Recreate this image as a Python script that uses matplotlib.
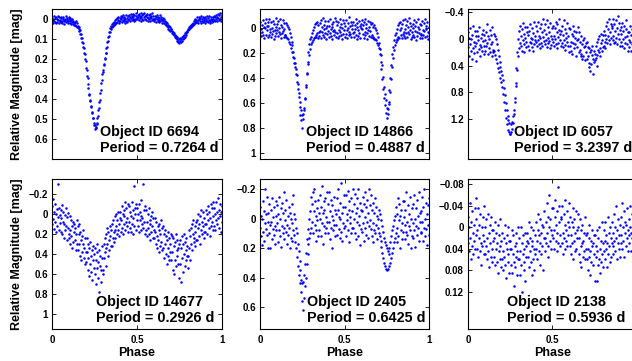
import numpy as np
import matplotlib
matplotlib.use('Agg')
from matplotlib import pyplot as plt
from matplotlib.ticker import FuncFormatter

# magnitudes, evenly spaced in phase 0..1
# (one row per 0.05 in phase)
mag_6694 = [
    0.012, -0.006, 0.020, 0.004, -0.014, 0.009, 0.016, -0.003, -0.010, 0.022, 0.001, 0.013, -0.017, 0.006, 0.018, -0.008, 0.003, 0.011,
    -0.004, 0.015, -0.012, 0.008, 0.020, 0.000, -0.009, 0.012, 0.024, -0.002, 0.006, -0.015, 0.017, 0.003, -0.006, 0.010, 0.019, -0.011,
    0.002, 0.018, -0.006, 0.012, 0.024, 0.005, 0.016, -0.002, 0.026, 0.011, 0.020, 0.032, 0.014, 0.028, 0.008, 0.036, 0.022, 0.040,
    0.042, 0.033, 0.050, 0.042, 0.060, 0.056, 0.076, 0.073, 0.096, 0.094, 0.116, 0.118, 0.140, 0.147, 0.170, 0.176, 0.200, 0.212,
    0.244, 0.255, 0.286, 0.296, 0.326, 0.345, 0.374, 0.381, 0.405, 0.411, 0.436, 0.441, 0.466, 0.470, 0.496, 0.497, 0.520, 0.530,
    0.530, 0.548, 0.540, 0.545, 0.524, 0.520, 0.494, 0.486, 0.455, 0.446, 0.414, 0.406, 0.370, 0.356, 0.318, 0.306, 0.274, 0.266,
    0.256, 0.230, 0.226, 0.200, 0.196, 0.170, 0.171, 0.145, 0.140, 0.114, 0.110, 0.088, 0.086, 0.064, 0.066, 0.046, 0.052, 0.033,
    0.040, 0.026, 0.036, 0.020, 0.030, 0.014, 0.026, 0.006, 0.022, 0.000, 0.018, -0.006, 0.016, 0.004, -0.010, 0.012, 0.020, -0.004,
    0.010, -0.014, 0.002, 0.016, -0.008, -0.018, 0.006, 0.012, -0.004, -0.012, 0.018, 0.000, -0.020, 0.008, -0.006, 0.014, -0.016, 0.004,
    -0.018, 0.002, -0.010, 0.010, -0.024, -0.004, 0.006, -0.014, -0.026, 0.000, -0.008, 0.008, -0.020, -0.002, 0.004, -0.016, -0.028, -0.006,
    0.002, -0.020, -0.012, 0.006, -0.026, -0.004, -0.016, 0.008, -0.030, -0.008, -0.018, 0.000, -0.024, 0.004, -0.010, -0.028, -0.002, -0.014,
    -0.022, 0.004, -0.012, -0.026, 0.008, -0.004, -0.018, 0.002, -0.010, -0.024, 0.010, -0.006, -0.016, 0.006, -0.028, -0.002, -0.014, 0.000,
    0.008, -0.016, 0.002, -0.008, 0.014, -0.020, -0.002, 0.010, -0.012, 0.004, 0.016, -0.006, -0.018, 0.012, 0.000, -0.010, 0.006, 0.018,
    0.012, -0.004, 0.018, 0.002, 0.024, 0.008, 0.030, 0.014, 0.036, 0.020, 0.042, 0.028, 0.050, 0.034, 0.056, 0.042, 0.062, 0.048,
    0.052, 0.070, 0.060, 0.076, 0.066, 0.082, 0.072, 0.090, 0.078, 0.094, 0.084, 0.100, 0.092, 0.108, 0.098, 0.114, 0.102, 0.118,
    0.112, 0.096, 0.116, 0.100, 0.108, 0.092, 0.102, 0.086, 0.096, 0.080, 0.088, 0.072, 0.080, 0.066, 0.072, 0.058, 0.064, 0.050,
    0.056, 0.042, 0.052, 0.036, 0.046, 0.030, 0.040, 0.024, 0.034, 0.018, 0.028, 0.012, 0.024, 0.006, 0.020, 0.000, 0.016, 0.004,
    0.014, -0.008, 0.006, 0.018, -0.012, 0.002, 0.010, -0.004, 0.020, -0.014, 0.008, 0.000, 0.016, -0.010, 0.004, 0.012, -0.006, 0.018,
    -0.010, 0.012, 0.002, -0.016, 0.008, 0.016, -0.006, 0.004, -0.014, 0.010, 0.018, -0.002, -0.012, 0.006, 0.014, -0.008, 0.000, 0.010,
    0.004, -0.014, 0.010, -0.008, -0.020, 0.002, -0.012, 0.008, -0.024, -0.004, 0.006, -0.018, -0.028, 0.000, -0.010, 0.010, -0.022, -0.032,
]
mag_14866 = [
    0.042, -0.048, 0.012, 0.068, -0.026, 0.030, -0.062, 0.055, -0.008, 0.084, -0.038, 0.004, 0.060, -0.070, 0.020, -0.015, 0.075, -0.045,
    -0.018, 0.058, -0.068, 0.032, 0.006, -0.044, 0.072, -0.002, 0.046, -0.058, 0.022, 0.090, -0.030, 0.014, 0.064, -0.080, 0.038, -0.010,
    0.016, -0.034, 0.066, -0.054, 0.036, 0.002, -0.074, 0.050, -0.020, 0.080, -0.008, 0.040, -0.060, 0.026, 0.070, -0.040, 0.010, 0.056,
    0.060, -0.040, 0.070, -0.020, 0.080, -0.005, 0.090, 0.010, 0.110, 0.040, 0.130, 0.070, 0.160, 0.110, 0.190, 0.140, 0.230, 0.190,
    0.280, 0.240, 0.310, 0.280, 0.370, 0.330, 0.430, 0.380, 0.490, 0.450, 0.550, 0.520, 0.630, 0.590, 0.700, 0.660, 0.740, 0.700,
    0.800, 0.690, 0.730, 0.640, 0.660, 0.560, 0.570, 0.460, 0.470, 0.360, 0.370, 0.270, 0.290, 0.190, 0.220, 0.130, 0.170, 0.090,
    0.130, 0.070, 0.110, 0.040, 0.100, 0.020, 0.080, -0.010, 0.070, -0.030, 0.060, -0.040, 0.070, -0.050, 0.040, 0.080, -0.020, 0.030,
    0.064, -0.038, 0.022, 0.084, -0.064, 0.030, -0.008, 0.054, -0.078, 0.012, 0.072, -0.026, 0.040, -0.052, 0.002, 0.090, -0.016, 0.048,
    0.028, -0.056, 0.074, -0.014, 0.044, -0.070, 0.006, 0.062, -0.034, 0.092, -0.004, 0.024, -0.046, 0.058, 0.016, -0.082, 0.036, 0.070,
    -0.058, 0.040, -0.022, 0.078, -0.044, 0.014, 0.066, -0.074, 0.034, -0.006, 0.056, -0.030, 0.086, 0.000, -0.066, 0.046, 0.020, -0.040,
    0.070, -0.012, 0.046, -0.064, 0.018, 0.084, -0.038, 0.002, 0.060, -0.084, 0.030, -0.016, 0.052, -0.050, 0.076, 0.008, -0.026, 0.038,
    -0.048, 0.034, 0.074, -0.024, 0.010, -0.068, 0.054, -0.004, 0.090, -0.040, 0.020, 0.064, -0.058, 0.044, -0.012, 0.080, 0.004, -0.032,
    0.006, -0.060, 0.050, -0.020, 0.078, -0.044, 0.030, -0.074, 0.060, 0.000, -0.030, 0.040, 0.086, -0.052, 0.016, 0.068, -0.010, 0.026,
    -0.050, 0.070, -0.030, 0.060, -0.040, 0.080, -0.010, 0.070, -0.020, 0.090, 0.000, 0.090, 0.020, 0.100, 0.040, 0.120, 0.070, 0.140,
    0.160, 0.120, 0.210, 0.170, 0.270, 0.220, 0.330, 0.300, 0.410, 0.390, 0.490, 0.470, 0.560, 0.530, 0.620, 0.580, 0.680, 0.640,
    0.720, 0.650, 0.690, 0.590, 0.610, 0.500, 0.510, 0.400, 0.410, 0.300, 0.310, 0.210, 0.240, 0.150, 0.180, 0.100, 0.140, 0.060,
    0.110, 0.040, 0.100, 0.010, 0.090, -0.020, 0.070, -0.040, 0.080, 0.020, -0.050, 0.060, 0.000, 0.085, -0.030, 0.050, -0.060, 0.030,
    0.062, -0.068, 0.012, 0.084, -0.024, 0.042, -0.054, 0.070, -0.008, 0.030, -0.078, 0.052, 0.018, -0.040, 0.088, -0.016, 0.036, 0.074,
    -0.034, 0.054, 0.002, -0.064, 0.076, 0.022, -0.014, 0.094, -0.046, 0.036, 0.066, -0.004, -0.072, 0.044, 0.010, 0.082, -0.028, 0.058,
    0.046, -0.024, 0.080, -0.058, 0.016, 0.056, -0.040, 0.028, -0.070, 0.072, 0.006, -0.018, 0.064, -0.050, 0.034, 0.090, -0.008, 0.040,
]
mag_6057 = [
    0.120, -0.100, 0.250, -0.020, 0.080, -0.160, 0.180, 0.000, 0.300, -0.060, 0.140, -0.200, 0.040, 0.210, -0.120, 0.100, -0.040, 0.330,
    0.060, -0.120, 0.200, 0.010, -0.050, 0.150, -0.180, 0.090, 0.260, -0.020, 0.120, -0.080, 0.180, -0.140, 0.030, 0.230, -0.060, 0.100,
    0.020, 0.180, -0.100, 0.100, -0.220, 0.060, 0.220, -0.040, 0.140, 0.000, -0.140, 0.200, 0.080, -0.060, 0.260, 0.040, -0.180, 0.160,
    0.200, -0.080, 0.180, -0.040, 0.240, 0.000, 0.300, 0.080, 0.360, 0.160, 0.440, 0.260, 0.500, 0.340, 0.580, 0.420, 0.640, 0.480,
    0.540, 0.720, 0.620, 0.820, 0.740, 0.940, 0.840, 1.060, 0.960, 1.180, 1.060, 1.280, 1.160, 1.360, 1.220, 1.400, 1.260, 1.430,
    1.420, 1.280, 1.400, 1.240, 1.350, 1.160, 1.260, 1.060, 1.120, 0.880, 0.940, 0.660, 0.700, 0.440, 0.460, 0.200, 0.260, 0.000,
    0.140, -0.120, 0.060, -0.200, 0.100, -0.050, 0.180, -0.150, 0.020, -0.240, 0.080, -0.080, 0.200, -0.010, -0.180, 0.120, 0.040, -0.100,
    -0.180, 0.100, -0.060, 0.160, -0.120, 0.040, -0.220, 0.060, -0.010, 0.120, -0.160, 0.000, 0.180, -0.090, 0.080, -0.250, 0.020, -0.040,
    0.050, -0.200, 0.100, -0.120, 0.020, -0.260, 0.080, -0.050, 0.140, -0.160, -0.010, -0.220, 0.060, -0.100, 0.110, -0.300, -0.030, 0.030,
    -0.140, 0.080, -0.220, 0.010, -0.080, 0.120, -0.280, -0.020, 0.060, -0.180, 0.030, -0.100, 0.140, -0.240, -0.040, 0.090, -0.160, 0.000,
    0.040, -0.200, -0.040, 0.100, -0.160, 0.000, -0.260, 0.070, -0.100, 0.130, -0.220, -0.030, 0.060, -0.140, -0.300, 0.020, -0.080, 0.110,
    -0.120, 0.060, -0.200, 0.120, -0.060, 0.020, -0.280, 0.090, -0.150, 0.160, -0.020, -0.090, 0.040, -0.240, 0.100, -0.040, 0.200, -0.160,
    0.100, -0.150, 0.040, 0.180, -0.080, 0.220, -0.200, 0.060, -0.040, 0.140, -0.120, 0.080, -0.010, 0.260, -0.100, 0.120, 0.020, -0.180,
    0.000, 0.200, -0.100, 0.160, 0.040, 0.260, -0.050, 0.220, 0.080, 0.300, 0.020, 0.250, 0.120, -0.020, 0.320, 0.100, 0.200, 0.060,
    0.300, 0.050, 0.260, 0.120, 0.360, 0.140, 0.420, 0.200, 0.480, 0.160, 0.380, 0.240, 0.100, 0.300, 0.520, 0.180, 0.340, 0.220,
    0.320, 0.100, 0.280, 0.050, 0.400, 0.240, 0.160, 0.000, 0.200, -0.040, 0.140, 0.260, 0.060, -0.080, 0.180, 0.020, 0.120, -0.060,
    0.100, -0.120, 0.050, -0.060, 0.140, -0.200, 0.000, -0.250, 0.060, -0.150, -0.050, -0.300, 0.020, -0.100, 0.080, -0.220, -0.020, -0.160,
    -0.200, 0.020, -0.300, -0.050, 0.060, -0.220, -0.120, 0.040, -0.280, -0.020, -0.160, 0.080, -0.340, -0.080, 0.000, -0.240, -0.140, 0.100,
    0.040, -0.180, -0.080, 0.100, -0.240, 0.000, -0.120, 0.140, -0.200, -0.030, 0.060, -0.150, -0.280, 0.080, -0.050, 0.180, -0.100, 0.020,
    -0.100, 0.120, -0.200, 0.040, -0.060, 0.180, -0.150, 0.080, -0.020, 0.200, -0.120, 0.060, 0.260, -0.050, 0.140, -0.180, 0.010, 0.100,
]
mag_14677 = [
    0.100, -0.080, 0.050, -0.150, 0.150, -0.020, 0.080, -0.100, 0.180, 0.000, -0.050, 0.120, 0.030, -0.300, 0.160, -0.060, 0.090, 0.010,
    -0.040, 0.180, 0.040, -0.090, 0.200, 0.080, -0.020, 0.240, 0.100, 0.010, 0.160, -0.060, 0.120, 0.260, 0.030, 0.140, -0.010, 0.200,
    0.240, 0.020, 0.160, 0.300, 0.060, 0.220, 0.120, 0.340, 0.080, 0.280, 0.180, 0.100, 0.260, 0.140, 0.360, 0.200, 0.060, 0.300,
    0.120, 0.360, 0.200, 0.100, 0.300, 0.420, 0.180, 0.260, 0.460, 0.220, 0.380, 0.300, 0.160, 0.440, 0.340, 0.240, 0.500, 0.380,
    0.480, 0.240, 0.380, 0.560, 0.300, 0.440, 0.620, 0.340, 0.500, 0.280, 0.580, 0.420, 0.360, 0.660, 0.460, 0.320, 0.540, 0.400,
    0.340, 0.600, 0.460, 0.700, 0.380, 0.540, 0.300, 0.640, 0.480, 0.780, 0.360, 0.520, 0.420, 0.680, 0.560, 0.320, 0.440, 0.600,
    0.560, 0.300, 0.440, 0.240, 0.380, 0.520, 0.200, 0.340, 0.140, 0.300, 0.420, 0.180, 0.260, 0.360, 0.120, 0.220, 0.320, 0.160,
    0.320, 0.100, 0.240, 0.060, 0.180, 0.280, 0.020, 0.160, 0.240, 0.000, 0.120, 0.200, 0.060, 0.160, -0.020, 0.100, 0.220, 0.040,
    -0.020, 0.180, 0.060, -0.080, 0.140, 0.000, 0.200, -0.040, 0.100, 0.020, -0.120, 0.160, 0.080, -0.060, 0.120, 0.040, -0.100, 0.180,
    0.080, -0.080, 0.140, -0.020, 0.180, 0.020, -0.120, 0.100, -0.040, 0.200, 0.040, -0.280, 0.120, -0.060, 0.000, 0.160, -0.100, 0.060,
    -0.060, 0.120, 0.000, 0.180, -0.100, 0.060, -0.020, 0.160, 0.020, -0.140, 0.100, 0.040, -0.300, 0.140, -0.040, 0.080, 0.200, -0.080,
    0.160, -0.040, 0.080, 0.220, 0.000, 0.140, -0.060, 0.200, 0.060, 0.260, 0.100, 0.020, 0.180, -0.020, 0.120, 0.240, 0.040, 0.160,
    0.240, 0.040, 0.180, 0.300, 0.080, 0.220, 0.340, 0.120, 0.260, 0.160, 0.380, 0.100, 0.200, 0.320, 0.060, 0.280, 0.140, 0.360,
    0.120, 0.340, 0.200, 0.440, 0.160, 0.300, 0.400, 0.220, 0.500, 0.260, 0.180, 0.420, 0.340, 0.240, 0.460, 0.300, 0.380, 0.200,
    0.460, 0.220, 0.380, 0.560, 0.240, 0.320, 0.600, 0.280, 0.460, 0.200, 0.520, 0.360, 0.420, 0.260, 0.500, 0.340, 0.640, 0.300,
    0.260, 0.500, 0.340, 0.680, 0.220, 0.440, 0.300, 0.580, 0.200, 0.400, 0.520, 0.280, 0.360, 0.460, 0.240, 0.420, 0.320, 0.540,
    0.420, 0.160, 0.340, 0.220, 0.460, 0.140, 0.300, 0.100, 0.360, 0.200, 0.060, 0.280, 0.240, 0.120, 0.320, 0.180, 0.080, 0.260,
    0.060, 0.260, 0.140, 0.000, 0.220, 0.100, 0.300, 0.020, 0.160, -0.040, 0.200, 0.080, 0.120, -0.020, 0.240, 0.040, 0.180, 0.100,
    0.180, -0.040, 0.100, 0.000, 0.200, -0.080, 0.060, 0.140, -0.020, 0.220, 0.040, -0.100, 0.120, -0.060, 0.080, 0.160, 0.020, -0.120,
    -0.060, 0.120, 0.000, 0.160, -0.120, 0.060, -0.020, 0.100, -0.160, 0.040, 0.140, -0.040, 0.020, -0.100, 0.180, -0.020, 0.080, -0.080,
]
mag_2405 = [
    0.060, -0.080, 0.120, -0.020, 0.180, 0.000, -0.120, 0.090, -0.050, 0.150, 0.030, -0.200, 0.070, -0.030, 0.110, -0.150, 0.020, 0.200,
    -0.040, 0.100, -0.100, 0.040, 0.200, -0.060, 0.020, 0.140, -0.140, 0.070, -0.010, 0.110, -0.080, 0.050, 0.170, -0.020, -0.120, 0.080,
    0.030, -0.090, 0.160, -0.030, 0.080, -0.150, 0.120, 0.000, -0.070, 0.190, 0.050, -0.110, 0.100, -0.040, 0.140, -0.180, 0.060, 0.010,
    -0.060, 0.090, -0.130, 0.040, 0.170, -0.020, 0.110, -0.080, 0.060, 0.200, -0.040, 0.130, 0.000, -0.100, 0.150, 0.030, -0.160, 0.080,
    -0.030, 0.110, 0.000, 0.160, 0.060, 0.200, 0.100, 0.260, 0.170, 0.320, 0.220, 0.380, 0.290, 0.440, 0.350, 0.500, 0.420, 0.560,
    0.440, 0.620, 0.430, 0.540, 0.380, 0.460, 0.310, 0.400, 0.230, 0.310, 0.140, 0.240, 0.070, 0.170, 0.000, 0.130, -0.050, 0.100,
    -0.150, 0.060, -0.100, 0.020, -0.180, 0.100, -0.050, -0.200, 0.040, -0.120, 0.150, -0.020, 0.080, -0.070, 0.010, -0.130, 0.120, -0.040,
    0.080, -0.160, 0.000, -0.080, 0.120, -0.220, 0.030, -0.040, 0.170, -0.120, 0.050, -0.060, -0.140, 0.100, -0.010, 0.060, -0.180, 0.020,
    -0.100, 0.100, -0.180, 0.020, -0.050, 0.140, -0.130, 0.060, -0.020, 0.200, -0.090, 0.010, 0.080, -0.150, 0.040, -0.060, 0.120, -0.030,
    0.040, -0.140, 0.110, -0.060, -0.200, 0.070, -0.010, 0.130, -0.110, 0.000, -0.240, 0.090, -0.040, 0.150, -0.080, 0.030, -0.160, 0.060,
    -0.080, 0.050, -0.160, 0.120, -0.030, 0.010, -0.190, 0.080, -0.060, 0.160, -0.120, 0.030, -0.010, -0.140, 0.100, -0.050, 0.060, -0.200,
    0.060, -0.100, 0.000, -0.170, 0.100, -0.040, 0.140, -0.140, 0.020, -0.070, 0.120, -0.200, 0.040, -0.020, 0.180, -0.110, 0.070, -0.060,
    -0.050, 0.090, -0.150, 0.030, -0.100, 0.150, -0.010, -0.180, 0.060, -0.080, 0.110, -0.130, 0.020, -0.040, 0.130, -0.200, 0.050, -0.090,
    0.010, -0.160, 0.070, -0.060, 0.120, -0.110, 0.030, 0.160, -0.040, 0.080, -0.140, 0.100, -0.080, 0.040, -0.020, 0.140, 0.000, 0.060,
    0.100, -0.060, 0.120, -0.030, 0.150, 0.010, 0.190, 0.050, 0.230, 0.090, 0.270, 0.130, 0.300, 0.160, 0.320, 0.180, 0.340, 0.200,
    0.350, 0.220, 0.340, 0.240, 0.320, 0.200, 0.300, 0.160, 0.270, 0.120, 0.230, 0.080, 0.200, 0.050, 0.160, 0.010, 0.130, -0.020,
    0.100, -0.080, 0.160, -0.030, 0.060, -0.140, 0.120, 0.010, -0.100, 0.200, -0.020, 0.080, -0.060, 0.140, 0.030, -0.120, 0.090, -0.010,
    -0.120, 0.040, 0.140, -0.060, 0.090, -0.180, 0.020, 0.110, -0.090, 0.170, -0.030, 0.050, -0.150, 0.080, 0.000, 0.200, -0.070, 0.120,
    0.130, -0.100, 0.030, -0.160, 0.080, 0.000, 0.190, -0.070, 0.050, -0.130, 0.110, -0.020, 0.060, -0.180, 0.150, -0.040, 0.020, 0.100,
    -0.050, 0.090, -0.150, 0.020, 0.150, -0.080, 0.060, -0.200, 0.120, 0.000, -0.110, 0.070, -0.030, 0.180, -0.090, 0.040, 0.110, -0.140,
]
mag_2138 = [
    0.030, -0.020, 0.045, 0.000, -0.045, 0.020, 0.060, -0.010, 0.035, -0.030, 0.010, 0.050, -0.005, 0.025, -0.035, 0.040, 0.015, -0.055,
    -0.015, 0.040, 0.005, -0.035, 0.055, 0.020, -0.005, 0.045, -0.025, 0.030, 0.070, 0.000, 0.035, -0.020, 0.015, 0.050, -0.040, 0.025,
    0.050, 0.000, 0.035, -0.015, 0.060, 0.020, -0.025, 0.045, 0.010, 0.075, -0.005, 0.030, 0.055, -0.020, 0.040, 0.005, 0.065, 0.025,
    0.005, 0.055, 0.020, 0.070, -0.010, 0.040, 0.010, 0.065, 0.030, -0.005, 0.085, 0.045, 0.015, 0.060, -0.015, 0.035, 0.075, 0.025,
    0.060, 0.010, 0.045, 0.080, 0.020, 0.055, -0.005, 0.070, 0.030, 0.095, 0.040, 0.015, 0.065, 0.000, 0.050, 0.085, 0.025, 0.040,
    0.025, 0.070, 0.040, 0.005, 0.085, 0.050, 0.015, 0.065, 0.110, 0.035, 0.075, 0.010, 0.055, 0.030, 0.090, 0.045, 0.000, 0.060,
    0.060, 0.020, 0.090, 0.045, 0.000, 0.070, 0.030, 0.120, 0.050, 0.015, 0.080, 0.040, 0.065, 0.010, 0.100, 0.035, 0.055, 0.025,
    0.010, 0.055, 0.030, 0.075, -0.010, 0.045, 0.020, 0.065, 0.000, 0.090, 0.035, 0.025, 0.060, 0.005, 0.040, 0.080, 0.015, 0.050,
    0.040, -0.010, 0.025, 0.060, 0.005, -0.025, 0.045, 0.015, 0.070, -0.015, 0.030, 0.010, 0.050, -0.005, 0.035, 0.080, 0.000, 0.020,
    -0.030, 0.020, 0.045, -0.010, 0.030, -0.045, 0.010, 0.055, -0.020, 0.035, 0.000, -0.060, 0.025, -0.015, 0.040, 0.005, -0.035, 0.015,
    0.020, -0.035, 0.005, 0.040, -0.020, -0.050, 0.025, -0.005, 0.045, -0.030, 0.010, -0.075, 0.030, -0.010, -0.040, 0.015, 0.035, -0.020,
    -0.015, 0.030, -0.040, 0.010, 0.050, -0.025, 0.020, -0.005, 0.040, -0.050, 0.005, 0.025, -0.030, 0.035, -0.010, 0.015, -0.045, 0.000,
    0.035, -0.020, 0.015, 0.050, -0.010, 0.030, -0.035, 0.060, 0.000, 0.025, -0.015, 0.045, 0.010, -0.030, 0.040, 0.005, 0.020, -0.025,
    0.000, 0.050, 0.020, -0.015, 0.065, 0.035, 0.005, 0.075, 0.030, -0.005, 0.055, 0.025, 0.045, 0.010, 0.060, -0.020, 0.040, 0.015,
    0.060, 0.010, 0.040, 0.080, 0.020, 0.055, -0.005, 0.045, 0.090, 0.025, 0.065, 0.035, 0.005, 0.070, 0.030, 0.050, 0.015, 0.100,
    0.015, 0.055, 0.035, 0.100, 0.005, 0.045, 0.070, 0.020, 0.060, 0.000, 0.040, 0.085, 0.025, 0.065, -0.010, 0.050, 0.030, 0.075,
    0.045, 0.005, 0.060, 0.025, -0.010, 0.040, 0.015, 0.075, 0.030, -0.020, 0.050, 0.010, 0.035, 0.065, 0.000, 0.020, 0.055, 0.030,
    -0.010, 0.035, 0.010, 0.050, -0.025, 0.025, 0.000, 0.045, -0.040, 0.020, 0.060, 0.005, 0.030, -0.015, 0.040, 0.015, -0.005, 0.055,
    0.030, -0.020, 0.015, -0.045, 0.040, 0.000, 0.025, -0.030, 0.055, -0.010, 0.010, 0.035, -0.005, 0.020, -0.035, 0.045, 0.005, 0.015,
    -0.015, 0.030, 0.000, -0.040, 0.045, 0.010, -0.025, 0.020, -0.005, 0.050, -0.035, 0.015, 0.035, -0.010, 0.025, -0.050, 0.005, 0.040,
]

object_ids = ['6694', '14866', '6057', '14677', '2405', '2138']
periods = ['0.7264', '0.4887', '3.2397', '0.2926', '0.6425', '0.5936']
mags = [mag_6694, mag_14866, mag_6057, mag_14677, mag_2405, mag_2138]
ylims = [(-0.05, 0.7), (-0.15, 1.05), (-0.45, 1.8), (-0.35, 1.15), (-0.27, 0.75), (-0.09, 0.19)]
yticks = [
    [0, 0.1, 0.2, 0.3, 0.4, 0.5, 0.6],
    [0, 0.2, 0.4, 0.6, 0.8, 1],
    [-0.4, 0, 0.4, 0.8, 1.2],
    [-0.2, 0, 0.2, 0.4, 0.6, 0.8, 1],
    [-0.2, 0, 0.2, 0.4, 0.6],
    [-0.08, -0.04, 0, 0.04, 0.08, 0.12],
]
xticks = [0, 0.5, 1]
xticklabels = ['0', '0.5', '1']

plt.rcParams['font.family'] = 'Liberation Sans'
plt.rcParams['font.weight'] = 'bold'

W, H = 632, 361
fig = plt.figure(figsize=(W/100, H/100), dpi=100)

lefts = [52, 260, 468]
widths = [170, 169, 169]
bottoms = [159, 329]
text_x = [0.28, 0.27, 0.27, 0.257, 0.28, 0.23]
fmt = FuncFormatter(lambda v, p: ('%g' % v).replace('-', '\u2212'))

for i in range(6):
    r, c = divmod(i, 3)
    ax = fig.add_axes([lefts[c]/W, 1 - bottoms[r]/H, widths[c]/W, 150/H])
    m = np.array(mags[i])
    ph = np.linspace(0, 1, len(m))
    ax.plot(ph, m, 'o', color='#0000ff', markersize=1.8, markeredgewidth=0)
    ax.set_xlim(0, 1)
    ax.set_ylim(ylims[i][1], ylims[i][0])
    ax.set_xticks(xticks)
    ax.set_yticks(yticks[i])
    ax.yaxis.set_major_formatter(fmt)
    ax.tick_params(direction='in', top=True, right=True, length=3, width=0.6,
                   labelsize=7, pad=3)
    ax.tick_params(axis='x', pad=4)
    if r == 0:
        ax.set_xticklabels([])
    elif c == 2:
        # the right column runs past the edge, its "1" falls outside
        ax.set_xticklabels(xticklabels[:2] + [''])
    else:
        ax.set_xticklabels(xticklabels)
    for s in ax.spines.values():
        s.set_linewidth(0.8)
    ax.text(text_x[i], 0.18, 'Object ID ' + object_ids[i], transform=ax.transAxes,
            fontsize=10.4, fontweight='bold', va='center', ha='left')
    ax.text(text_x[i], 0.073, 'Period = ' + periods[i] + ' d', transform=ax.transAxes,
            fontsize=10.4, fontweight='bold', va='center', ha='left')
    if r == 1:
        fig.text((lefts[c] + widths[c]/2)/W, 1 - 352.7/H, 'Phase', fontsize=9,
                 fontweight='bold', ha='center', va='center')

for yc in [84, 254]:
    fig.text(17/W, 1 - yc/H, 'Relative Magnitude [mag]', fontsize=9, fontweight='bold',
             rotation=90, ha='center', va='center')

fig.savefig('out.png', dpi=100)
